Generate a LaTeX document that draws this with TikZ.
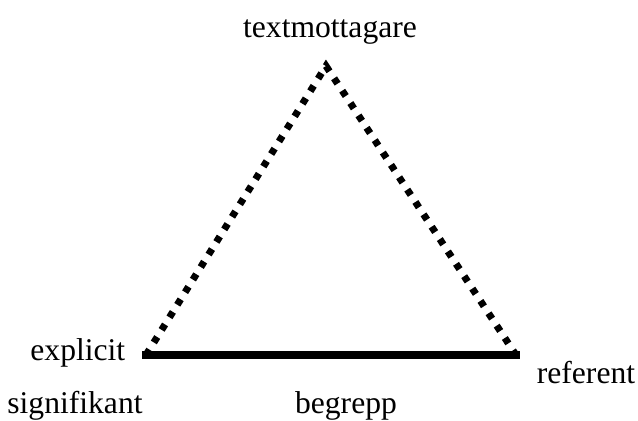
\documentclass[tikz,border=0pt]{standalone}
\usepackage{fontspec}
\setmainfont{Liberation Serif}
\begin{document}
\begin{tikzpicture}[x=0.5pt, y=-0.5pt, thick, font=\fontsize{15.8}{18}\selectfont, inner sep=0pt]
        \useasboundingbox (0,0) rectangle (638,420);
        \coordinate (mottagare) at (326,66);
        \coordinate (explicit) at (146,355);
        \coordinate (referent) at (516,355);

        \node[anchor=base] (textlabel) at (330,37) {textmottagare};
        \node[anchor=base east] (explabel) at (126,360) {explicit};
        \node[anchor=base] (siglabel) at (75,413) {signifikant};
        \node[anchor=base] (beglabel) at (346,413) {begrepp};
        \node[anchor=base] (reflabel) at (586,383) {referent};

        \draw[line width=3.5pt, dash pattern=on 3.2pt off 4.2pt] (explicit) -- (mottagare) -- (referent);
        \draw[line width=3.8pt, line cap=rect] (explicit) -- (referent);
    \end{tikzpicture}
\end{document}
